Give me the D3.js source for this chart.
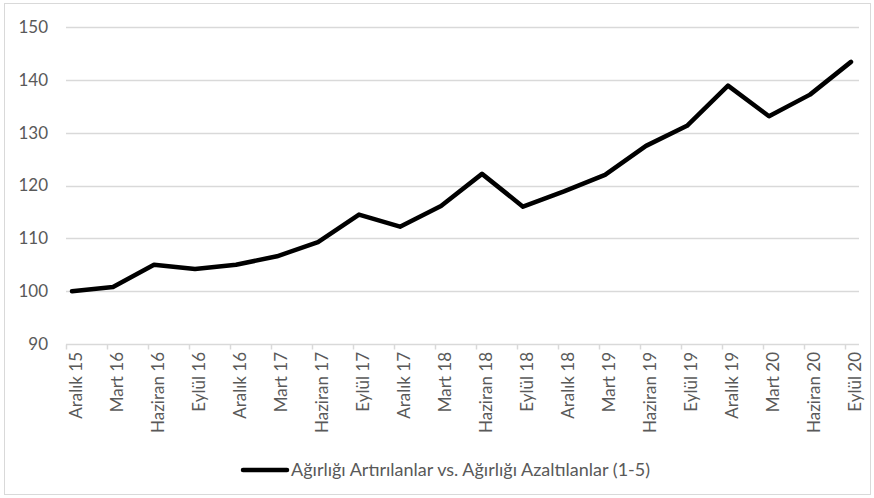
<!DOCTYPE html>
<html>
<head>
<meta charset="utf-8">
<script src="https://cdn.jsdelivr.net/npm/d3@7"></script>
<style>
  body { margin: 0; background: #fff; }
  text { font-family: Lato, "Liberation Sans", sans-serif; fill: #595959; }
</style>
</head>
<body>
<div id="chart"></div>
<script>
// chart size
var width = 874;
var height = 498;

// data
var categories = ["Aralık 15", "Mart 16", "Haziran 16", "Eylül 16", "Aralık 16",
  "Mart 17", "Haziran 17", "Eylül 17", "Aralık 17", "Mart 18", "Haziran 18",
  "Eylül 18", "Aralık 18", "Mart 19", "Haziran 19", "Eylül 19", "Aralık 19",
  "Mart 20", "Haziran 20", "Eylül 20"];
var values = [100.0, 100.8, 105.0, 104.2, 105.0, 106.6, 109.3, 114.5, 112.2, 116.1,
  122.2, 116.0, 118.9, 122.0, 127.5, 131.3, 138.9, 133.1, 137.2, 143.4];
var yTicks = [90, 100, 110, 120, 130, 140, 150];
var seriesName = "Ağırlığı Artırılanlar vs. Ağırlığı Azaltılanlar (1-5)";

var svg = d3.select("#chart").append("svg")
  .attr("width", width)
  .attr("height", height);

// outer chart border
svg.append("rect")
  .attr("x", 4.5).attr("y", 3.5)
  .attr("width", 866).attr("height", 491)
  .attr("fill", "#fff")
  .attr("stroke", "#d9d9d9");

var plotLeft = 66, plotRight = 859;

var x = d3.scalePoint()
  .domain(categories)
  .range([72, 851]);

var y = d3.scaleLinear()
  .domain([90, 150])
  .range([344, 27]);

// gridlines
svg.append("g")
  .selectAll("line")
  .data(yTicks.slice(1))
  .enter()
  .append("line")
    .attr("x1", plotLeft)
    .attr("x2", plotRight)
    .attr("y1", function(d) { return Math.round(y(d)) + 0.5; })
    .attr("y2", function(d) { return Math.round(y(d)) + 0.5; })
    .attr("stroke", "#d9d9d9")
    .attr("stroke-width", 1.5);

// y labels
svg.append("g")
  .selectAll("text")
  .data(yTicks)
  .enter()
  .append("text")
    .attr("x", 48)
    .attr("y", function(d) { return y(d); })
    .attr("dy", "0.35em")
    .attr("text-anchor", "end")
    .style("font-size", "17px")
    .text(function(d) { return d; });

// x axis line and ticks
var axisY = Math.round(y(90)) + 0.5;
svg.append("line")
  .attr("x1", plotLeft).attr("x2", plotRight)
  .attr("y1", axisY).attr("y2", axisY)
  .attr("stroke", "#d9d9d9")
  .attr("stroke-width", 1.5);

svg.append("g")
  .selectAll("line")
  .data(categories)
  .enter()
  .append("line")
    .attr("x1", function(d) { return Math.round(x(d)) - 5.5; })
    .attr("x2", function(d) { return Math.round(x(d)) - 5.5; })
    .attr("y1", axisY)
    .attr("y2", axisY + 5)
    .attr("stroke", "#d9d9d9")
    .attr("stroke-width", 1.5);

// x labels, rotated
svg.append("g")
  .selectAll("text")
  .data(categories)
  .enter()
  .append("text")
    .attr("transform", function(d) { return "translate(" + (x(d) + 4) + "," + 352 + ") rotate(-90)"; })
    .attr("text-anchor", "end")
    .attr("dy", "0.35em")
    .style("font-size", "17px")
    .text(function(d) { return d; });

// the series line
var line = d3.line()
  .x(function(d, i) { return x(categories[i]); })
  .y(function(d) { return y(d); });

svg.append("path")
  .datum(values)
  .attr("d", line)
  .attr("fill", "none")
  .attr("stroke", "#000")
  .attr("stroke-width", 4.5)
  .attr("stroke-linejoin", "round")
  .attr("stroke-linecap", "round");

// legend
var legend = svg.append("g").attr("transform", "translate(243,470)");
legend.append("line")
  .attr("x1", 0).attr("x2", 44)
  .attr("y1", 0).attr("y2", 0)
  .attr("stroke", "#000")
  .attr("stroke-width", 4.5)
  .attr("stroke-linecap", "round");
legend.append("text")
  .attr("x", 48)
  .attr("dy", "0.35em")
  .style("font-size", "18px")
  .text(seriesName);
</script>
</body>
</html>
